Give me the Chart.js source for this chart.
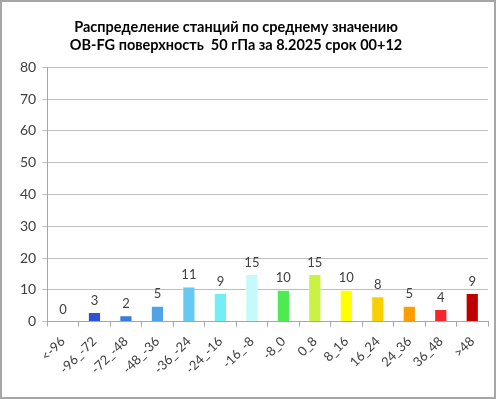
<!DOCTYPE html>
<html>
<head>
<meta charset="utf-8">
<script src="https://cdn.jsdelivr.net/npm/chart.js@4"></script>
<style>
  html, body { margin: 0; padding: 0; background: #fff; }
  #frame { width: 496px; height: 399px; box-sizing: border-box; border: 2px solid #a6a6a6; background: #fff; }
  canvas { display: block; }
</style>
</head>
<body>
<div id="frame"><canvas id="chart" width="492" height="395"></canvas></div>
<script>
// Chart data
const categories = ['<-96', '-96_-72', '-72_-48', '-48_-36', '-36_-24', '-24_-16', '-16_-8', '-8_0',
    '0_8', '8_16', '16_24', '24_36', '36_48', '>48'];
const stationCounts = [0, 3, 2, 5, 11, 9, 15, 10, 15, 10, 8, 5, 4, 9];
const barColors = ['#2a3fc0', '#2f52d2', '#3a7cdd', '#52a2e8', '#66c9f4', '#72eef7', '#c6f9fb', '#4eea52',
    '#c9f243', '#ffff00', '#f7d000', '#ff9c00', '#f2282e', '#c00000'];
const yTicks = [0, 10, 20, 30, 40, 50, 60, 70, 80];
const titleLines = ['Распределение станций по среднему значению', 'OB-FG поверхность  50 гПа за 8.2025 срок 00+12'];

// Draw the value above each bar
const valueLabels = {
    id: 'valueLabels',
    afterDatasetsDraw(chart) {
        const ctx = chart.ctx;
        const meta = chart.getDatasetMeta(0);
        ctx.save();
        ctx.font = '13px Lato, "Open Sans", sans-serif';
        ctx.fillStyle = '#404040';
        ctx.textAlign = 'center';
        ctx.textBaseline = 'bottom';
        meta.data.forEach((bar, i) => {
            ctx.fillText(stationCounts[i], bar.x, bar.y - 5);
        });
        ctx.restore();
    }
};

// Excel puts the title a bit left of centre; shift the title box
const titleShift = {
    id: 'titleShift',
    afterLayout(chart) {
        chart.titleBlock.left -= 30;
    }
};

const ctx = document.getElementById('chart').getContext('2d');
const chart = new Chart(ctx, {
    type: 'bar',
    data: {
        labels: categories,
        datasets: [{
            data: stationCounts,
            backgroundColor: barColors,
            borderColor: 'rgba(255,255,255,0.5)',
            borderWidth: 1,
            categoryPercentage: 1,
            barPercentage: 0.42
        }]
    },
    options: {
        responsive: false,
        animation: false,
        layout: { padding: { left: 12, right: 6, top: 16, bottom: 13 } },
        plugins: {
            legend: { display: false },
            tooltip: { enabled: false },
            title: {
                display: true,
                text: titleLines,
                color: '#000',
                font: { family: 'Lato, "Open Sans", sans-serif', size: 14.5, weight: 'bold', lineHeight: 1.25 },
                padding: { top: 0, bottom: 13 }
            }
        },
        scales: {
            x: {
                grid: { display: true, drawOnChartArea: false, offset: true, tickLength: 5, color: '#a6a6a6' },
                border: { color: '#a6a6a6' },
                ticks: {
                    color: '#404040',
                    font: { family: 'Lato, "Open Sans", sans-serif', size: 13 },
                    minRotation: 45,
                    maxRotation: 45,
                    autoSkip: false,
                    padding: 7
                }
            },
            y: {
                min: 0,
                max: 80,
                afterBuildTicks(axis) { axis.ticks = yTicks.map(v => ({ value: v })); },
                grid: { color: '#bfbfbf', tickLength: 5 },
                border: { color: '#a6a6a6' },
                ticks: {
                    color: '#404040',
                    font: { family: 'Lato, "Open Sans", sans-serif', size: 14 },
                    padding: 6
                }
            }
        }
    },
    plugins: [valueLabels, titleShift]
});
</script>
</body>
</html>
